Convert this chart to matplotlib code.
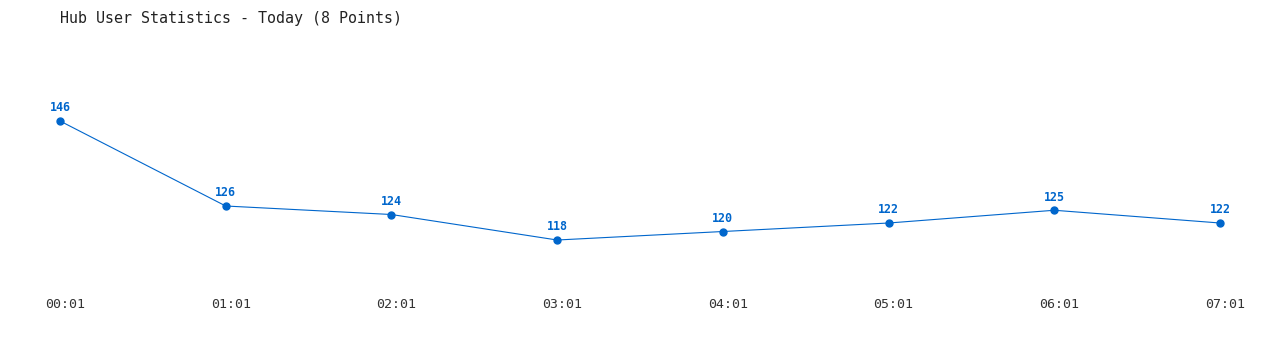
import matplotlib
matplotlib.use("Agg")
import matplotlib.pyplot as plt
import matplotlib.transforms as mtransforms

times = ["00:01", "01:01", "02:01", "03:01", "04:01", "05:01", "06:01", "07:01"]
users = [146, 126, 124, 118, 120, 122, 125, 122]
title = "Hub User Statistics - Today (8 Points)"

BLUE = "#0066cc"
W, H = 1280, 350

fig = plt.figure(figsize=(W / 100, H / 100), dpi=100)
# axes spans pixels x 60..1220, y 60..290
ax = fig.add_axes([60 / W, (H - 290) / H, 1160 / W, 230 / H])

x = list(range(len(users)))
ax.plot(x, users, color=BLUE, lw=0.8, marker="o", ms=5, clip_on=False)
for xi, v in zip(x, users):
    ax.annotate(str(v), (xi, v), xytext=(0, 9.4), textcoords="offset points",
                ha="center", va="center", color=BLUE, fontsize=8.4,
                fontweight="bold", family="DejaVu Sans Mono")

ax.set_xlim(0, len(users) - 1)
ax.set_ylim(106.24, 160.35)
ax.set_xticks(x)
ax.set_xticklabels(times, family="DejaVu Sans Mono", fontsize=9.5, color="#333333")
ax.tick_params(axis="x", length=0, pad=6)
# labels sit a few pixels right of the points in the original
shift = mtransforms.ScaledTranslation(5 / 100, 0, fig.dpi_scale_trans)
for lbl in ax.get_xticklabels():
    lbl.set_transform(lbl.get_transform() + shift)
ax.set_yticks([])
for s in ax.spines.values():
    s.set_visible(False)

fig.text(60 / W, 1 - 18 / H, title, ha="left", va="center",
         family="DejaVu Sans Mono", fontsize=10.8, color="#222222")

fig.savefig("out.png", dpi=100)
